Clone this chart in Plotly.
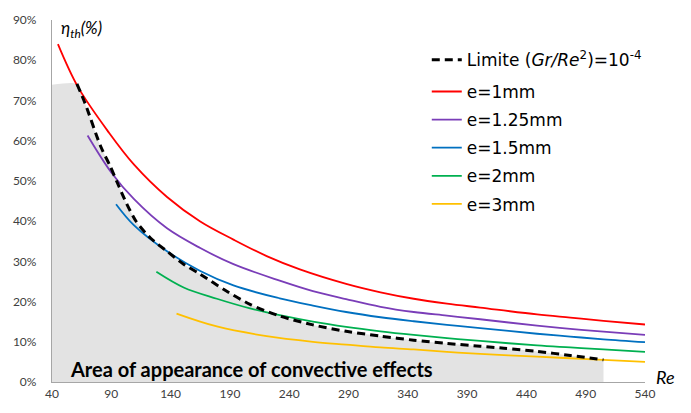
import plotly.graph_objects as go

# Thermal efficiency (%) versus Reynolds number for several gap widths e
re_1mm = [45, 62, 88, 109, 137, 165, 193, 221, 249, 288, 317, 345, 373, 401, 449, 477, 505, 540]
eta_1mm = [84.0, 73.3, 62.0, 54.1, 46.0, 39.9, 35.4, 31.3, 28.0, 24.4, 22.3, 20.7, 19.5, 18.5, 16.8, 16.0, 15.2, 14.3]

re_125mm = [70, 90, 109, 137, 165, 193, 232, 260, 288, 317, 345, 373, 401, 449, 477, 505, 540]
eta_125mm = [61.3, 52.1, 45.5, 38.2, 33.3, 29.3, 25.2, 22.6, 20.6, 18.7, 17.4, 16.5, 15.6, 14.0, 13.2, 12.5, 11.7]

re_15mm = [94, 109, 137, 165, 193, 232, 260, 288, 317, 345, 373, 401, 449, 477, 505, 540]
eta_15mm = [44.2, 39.0, 32.5, 27.6, 24.0, 20.8, 19.0, 17.4, 16.1, 15.1, 14.2, 13.4, 12.0, 11.3, 10.6, 9.9]

re_2mm = [128, 151, 179, 207, 232, 260, 288, 317, 345, 373, 401, 449, 477, 505, 540]
eta_2mm = [27.4, 23.5, 20.7, 18.3, 16.6, 15.0, 13.7, 12.6, 11.7, 10.9, 10.2, 9.1, 8.6, 8.1, 7.5]

re_3mm = [145, 179, 221, 260, 288, 317, 345, 373, 401, 449, 477, 505, 540]
eta_3mm = [17.0, 13.8, 11.4, 10.0, 9.3, 8.6, 8.1, 7.5, 7.0, 6.3, 5.9, 5.5, 5.0]

# Limit of mixed convection, Gr/Re^2 = 1e-4
re_limit = [61, 68, 81, 89, 95, 103, 111, 123, 137, 151, 165, 186, 207, 232, 260, 288, 317, 345, 373, 401, 421, 449, 477, 505]
eta_limit = [74.1, 69.2, 58.6, 53.7, 49.6, 44.3, 39.9, 35.8, 32.5, 29.3, 26.8, 22.8, 19.3, 16.4, 14.2, 12.6, 11.4, 10.4, 9.6, 8.9, 8.4, 7.6, 6.6, 5.5]

# Shaded region below the limit curve
area_re = [40] + re_limit
area_eta = [73.9] + eta_limit

x_ticks = [40, 90, 140, 190, 240, 290, 340, 390, 440, 490, 540]
y_ticks = [0, 10, 20, 30, 40, 50, 60, 70, 80, 90]
y_tick_labels = [f"{v}%" for v in y_ticks]

series = [
    ("e=1mm", re_1mm, eta_1mm, "#FF0000"),
    ("e=1.25mm", re_125mm, eta_125mm, "#7A3DB8"),
    ("e=1.5mm", re_15mm, eta_15mm, "#0070C0"),
    ("e=2mm", re_2mm, eta_2mm, "#00B050"),
    ("e=3mm", re_3mm, eta_3mm, "#FFC000"),
]

fig = go.Figure()

fig.add_trace(go.Scatter(
    x=area_re, y=area_eta, mode="lines", fill="tozeroy",
    fillcolor="#E3E3E3", line=dict(width=0, shape="spline", smoothing=0.6),
    showlegend=False, hoverinfo="skip",
))

for name, xs, ys, color in series:
    fig.add_trace(go.Scatter(
        x=xs, y=ys, mode="lines", name=name,
        line=dict(color=color, width=1.8, shape="spline", smoothing=1.0),
        legend="legend2", legendgroup=name,
    ))

fig.add_trace(go.Scatter(
    x=re_limit, y=eta_limit, mode="lines",
    name="Limite (<i>Gr/Re</i><sup>2</sup>)=10<sup>-4</sup>",
    line=dict(color="black", width=3, dash="8px,5px", shape="spline", smoothing=0.8),
    legend="legend",
))

tick_font = dict(family="Lato", size=12, color="#404040")

fig.update_layout(
    width=691, height=413,
    margin=dict(l=52, r=46, t=15, b=30),
    plot_bgcolor="white", paper_bgcolor="white",
    xaxis=dict(
        range=[40, 540], tickvals=x_ticks, showgrid=False, zeroline=False,
        showline=True, linecolor="#A6A6A6", linewidth=1.3, ticks="",
        tickfont=tick_font,
    ),
    yaxis=dict(
        range=[0, 90], tickvals=y_ticks, ticktext=y_tick_labels, showgrid=False,
        zeroline=False, showline=True, linecolor="#A6A6A6", linewidth=1.3,
        ticks="", tickfont=tick_font, ticklabelstandoff=12,
    ),
    legend=dict(
        x=0.632, y=0.939, xanchor="left", yanchor="top",
        font=dict(family="DejaVu Sans", size=17, color="black"),
        bgcolor="rgba(0,0,0,0)",
    ),
    legend2=dict(
        x=0.632, y=0.851, xanchor="left", yanchor="top",
        font=dict(family="DejaVu Sans", size=17, color="black"),
        bgcolor="rgba(0,0,0,0)", traceorder="grouped", tracegroupgap=3,
    ),
    showlegend=True,
    annotations=[
        dict(text="<i>η<sub>th</sub>(%)</i>", xref="paper", yref="paper",
             x=0.012, y=0.975, xanchor="left", yanchor="middle", showarrow=False,
             font=dict(family="Lato", size=17, color="black")),
        dict(text="<i>Re</i>", xref="paper", yref="paper",
             x=1.015, y=0.015, xanchor="left", yanchor="middle", showarrow=False,
             font=dict(family="Lato", size=18, color="black")),
        dict(text="<b>Area of appearance of convective effects</b>", xref="paper",
             yref="paper", x=0.027, y=0.035, xanchor="left", yanchor="middle",
             showarrow=False, font=dict(family="Lato", size=20, color="black")),
    ],
)

fig.write_html("out.html")
